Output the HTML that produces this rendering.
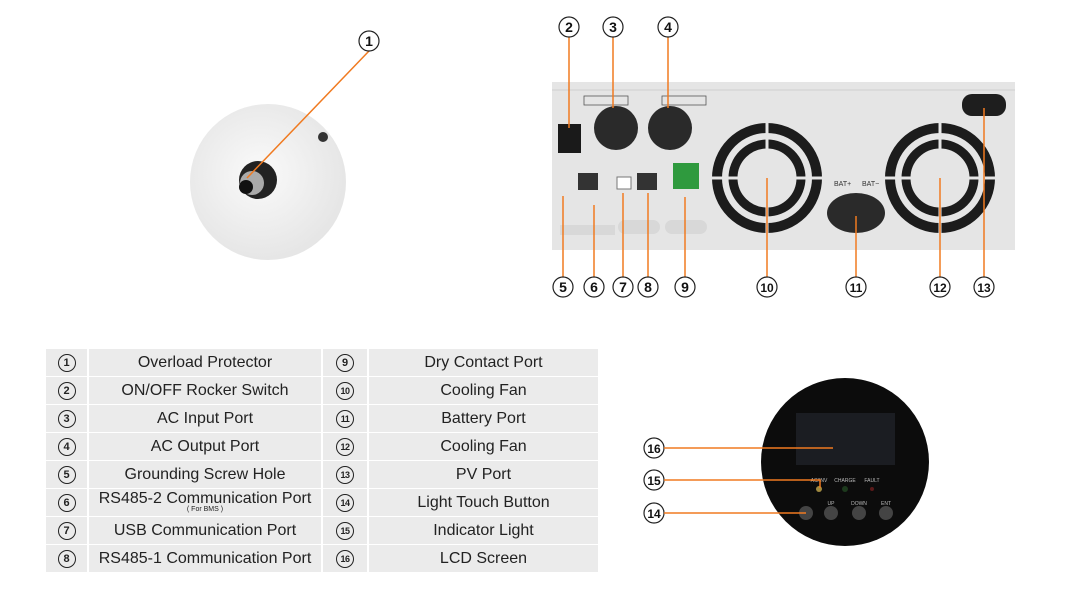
<!DOCTYPE html>
<html><head><style>
body{margin:0;width:1084px;height:615px;background:#fff;overflow:hidden;font-family:"Liberation Sans","DejaVu Sans",sans-serif;position:relative}
.t{position:absolute;left:46px;top:348px;border-collapse:separate;border-spacing:0 1px;table-layout:fixed}
.t td{background:#ebebeb;height:27px;padding:0;font-size:16px;color:#222;text-align:center;border-right:2px solid #fff;line-height:27px;overflow:hidden;position:relative}
.c{display:inline-block;width:16px;height:16px;border:1.2px solid #222;border-radius:50%;font-size:11px;line-height:16px;font-weight:bold;vertical-align:middle}
.c2{font-size:9px;letter-spacing:-0.5px}
.s{position:absolute;left:0;right:0;top:17px;font-size:7px;line-height:8px}
</style></head><body>
<svg width="1084" height="615" style="position:absolute;left:0;top:0">
<defs>
<radialGradient id="g1" cx="0.45" cy="0.45" r="0.6"><stop offset="0" stop-color="#fafafa"/><stop offset="1" stop-color="#e4e4e4"/></radialGradient>
</defs>
<circle cx="268" cy="182" r="78" fill="url(#g1)"/>
<circle cx="323" cy="137" r="5" fill="#333"/>
<circle cx="258" cy="180" r="19" fill="#222"/>
<circle cx="252" cy="183" r="12" fill="#aaa"/>
<circle cx="246" cy="187" r="7" fill="#111"/>
<line x1="369" y1="51" x2="247" y2="178" stroke="#f07a20" stroke-width="1.5"/>
<rect x="552" y="82" width="463" height="168" fill="#e5e5e5"/>
<line x1="552" y1="90" x2="1015" y2="90" stroke="#d0d0d0"/>
<rect x="558" y="124" width="23" height="29" fill="#1a1a1a"/>
<circle cx="616" cy="128" r="22" fill="#2a2a2a"/>
<circle cx="670" cy="128" r="22" fill="#2a2a2a"/>
<rect x="584" y="96" width="44" height="9" fill="none" stroke="#555" stroke-width="0.8"/>
<rect x="662" y="96" width="44" height="9" fill="none" stroke="#555" stroke-width="0.8"/>
<rect x="578" y="173" width="20" height="17" fill="#333"/>
<rect x="617" y="177" width="14" height="12" fill="#fff" stroke="#777"/>
<rect x="637" y="173" width="20" height="17" fill="#333"/>
<rect x="673" y="163" width="26" height="26" fill="#2f9a3e"/>
<rect x="560" y="225" width="55" height="10" fill="#d8d8d8"/>
<rect x="618" y="220" width="42" height="14" rx="7" fill="#d8d8d8"/>
<rect x="665" y="220" width="42" height="14" rx="7" fill="#d8d8d8"/>
<g fill="none" stroke="#1c1c1c">
<circle cx="767" cy="178" r="50" stroke-width="10"/>
<circle cx="767" cy="178" r="34" stroke-width="9"/>
<circle cx="940" cy="178" r="50" stroke-width="10"/>
<circle cx="940" cy="178" r="34" stroke-width="9"/>
</g>
<g stroke="#e5e5e5" stroke-width="3"><line x1="712" y1="178" x2="822" y2="178"/><line x1="767" y1="123" x2="767" y2="233"/><line x1="885" y1="178" x2="995" y2="178"/><line x1="940" y1="123" x2="940" y2="233"/></g>
<ellipse cx="856" cy="213" rx="29" ry="20" fill="#2a2a2a"/>
<rect x="962" y="94" width="44" height="22" rx="10" fill="#1e1e1e"/>
<text x="834" y="186" font-size="7" fill="#333">BAT+</text><text x="862" y="186" font-size="7" fill="#333">BAT−</text>
<g stroke="#f07a20" stroke-width="1.5">
<line x1="569" y1="37" x2="569" y2="128"/><line x1="613" y1="37" x2="613" y2="108"/><line x1="668" y1="37" x2="668" y2="108"/>
<line x1="563" y1="196" x2="563" y2="277"/><line x1="594" y1="205" x2="594" y2="277"/><line x1="623" y1="193" x2="623" y2="277"/><line x1="648" y1="193" x2="648" y2="277"/><line x1="685" y1="197" x2="685" y2="277"/><line x1="767" y1="178" x2="767" y2="277"/><line x1="856" y1="216" x2="856" y2="277"/><line x1="940" y1="178" x2="940" y2="277"/><line x1="984" y1="108" x2="984" y2="277"/>
</g>
<g fill="#fff" stroke="#222" stroke-width="1.2">
<circle cx="369" cy="41" r="10"/><circle cx="569" cy="27" r="10"/><circle cx="613" cy="27" r="10"/><circle cx="668" cy="27" r="10"/>
<circle cx="563" cy="287" r="10"/><circle cx="594" cy="287" r="10"/><circle cx="623" cy="287" r="10"/><circle cx="648" cy="287" r="10"/><circle cx="685" cy="287" r="10"/><circle cx="767" cy="287" r="10"/><circle cx="856" cy="287" r="10"/><circle cx="940" cy="287" r="10"/><circle cx="984" cy="287" r="10"/>
<circle cx="654" cy="448" r="10"/><circle cx="654" cy="480" r="10"/><circle cx="654" cy="513" r="10"/>
</g>
<g font-size="14" font-weight="bold" text-anchor="middle" fill="#111">
<text x="369" y="46">1</text><text x="569" y="32">2</text><text x="613" y="32">3</text><text x="668" y="32">4</text>
<text x="563" y="292">5</text><text x="594" y="292">6</text><text x="623" y="292">7</text><text x="648" y="292">8</text><text x="685" y="292">9</text>
<text x="767" y="292" font-size="12">10</text><text x="856" y="292" font-size="12">11</text><text x="940" y="292" font-size="12">12</text><text x="984" y="292" font-size="12">13</text>
<text x="654" y="453" font-size="12">16</text><text x="654" y="485" font-size="12">15</text><text x="654" y="518" font-size="12">14</text>
</g>
<circle cx="845" cy="462" r="84" fill="#0c0c0c"/>
<rect x="796" y="413" width="99" height="52" fill="#1b1d22"/>
<g font-size="5" fill="#bbb" text-anchor="middle"><text x="819" y="482">AC/INV</text><text x="845" y="482">CHARGE</text><text x="872" y="482">FAULT</text>
<text x="831" y="505">UP</text><text x="859" y="505">DOWN</text><text x="886" y="505">ENT</text></g>
<circle cx="819" cy="489" r="3" fill="#a08a40"/><circle cx="845" cy="489" r="3" fill="#1d3a1d"/><circle cx="872" cy="489" r="2" fill="#5a1a1a"/>
<g fill="#444"><circle cx="806" cy="513" r="7"/><circle cx="831" cy="513" r="7"/><circle cx="859" cy="513" r="7"/><circle cx="886" cy="513" r="7"/></g>
<g stroke="#f07a20" stroke-width="1.5" fill="none">
<line x1="664" y1="448" x2="833" y2="448"/><polyline points="664,480 820,480 820,488"/><line x1="664" y1="513" x2="806" y2="513"/>
</g>
</svg>
<table class="t">
<tr><td style="width:41px"><span class="c">1</span></td><td style="width:232px">Overload Protector</td><td style="width:44px"><span class="c">9</span></td><td style="width:229px">Dry Contact Port</td></tr>
<tr><td><span class="c">2</span></td><td>ON/OFF Rocker Switch</td><td><span class="c c2">10</span></td><td>Cooling Fan</td></tr>
<tr><td><span class="c">3</span></td><td>AC Input Port</td><td><span class="c c2">11</span></td><td>Battery Port</td></tr>
<tr><td><span class="c">4</span></td><td>AC Output Port</td><td><span class="c c2">12</span></td><td>Cooling Fan</td></tr>
<tr><td><span class="c">5</span></td><td>Grounding Screw Hole</td><td><span class="c c2">13</span></td><td>PV Port</td></tr>
<tr><td><span class="c">6</span></td><td style="line-height:20px;vertical-align:top">RS485-2 Communication Port<div class="s">( For BMS )</div></td><td><span class="c c2">14</span></td><td>Light Touch Button</td></tr>
<tr><td><span class="c">7</span></td><td>USB Communication Port</td><td><span class="c c2">15</span></td><td>Indicator Light</td></tr>
<tr><td><span class="c">8</span></td><td>RS485-1 Communication Port</td><td><span class="c c2">16</span></td><td>LCD Screen</td></tr>
</table>
</body></html>
